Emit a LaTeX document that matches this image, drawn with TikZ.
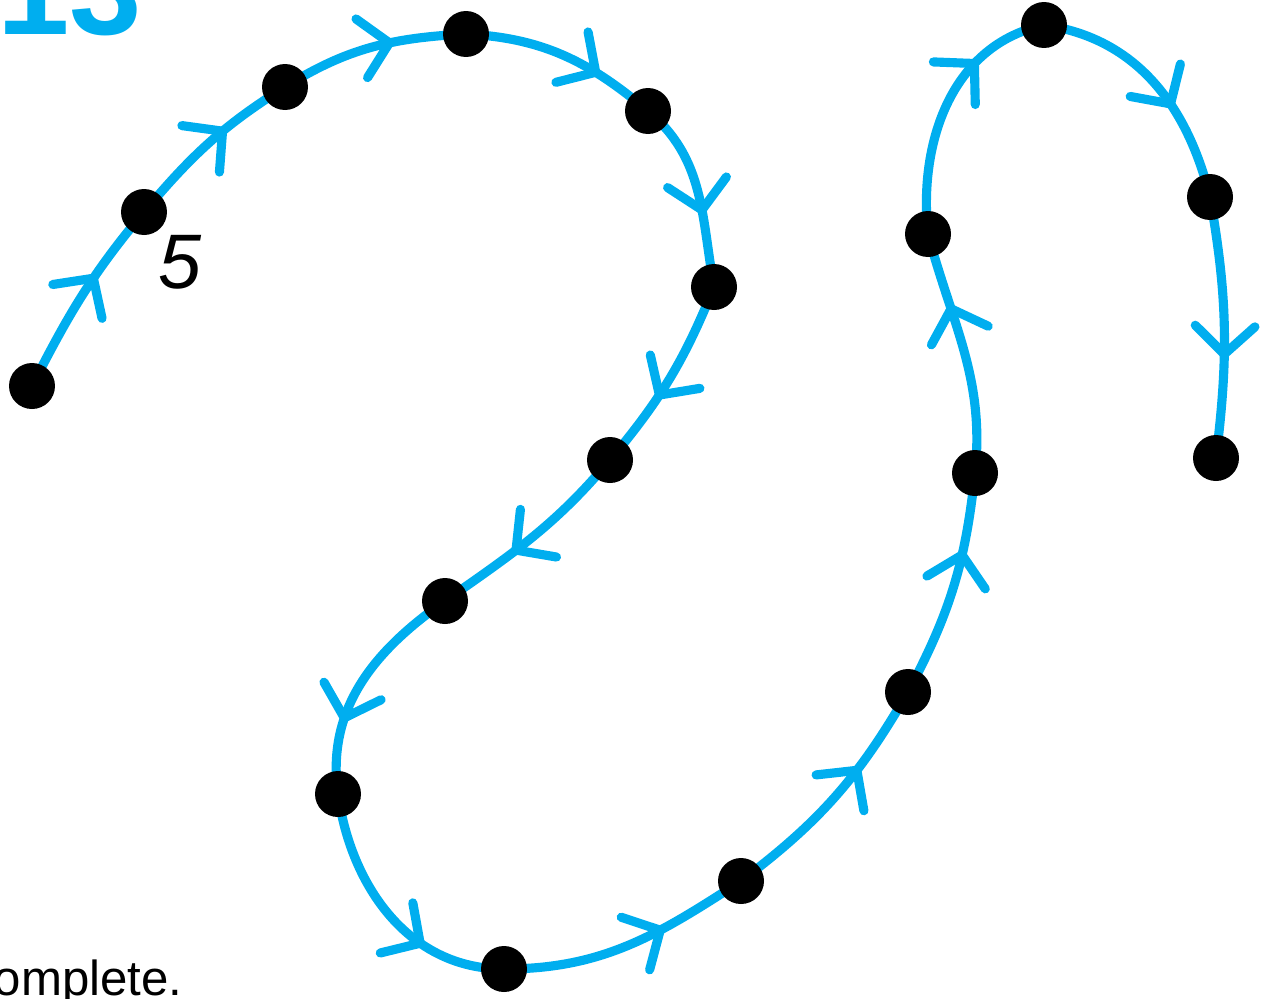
\documentclass[tikz,border=0pt]{standalone}
\usepackage{fontspec}
\setsansfont{Liberation Sans}
\usetikzlibrary{arrows.meta,decorations.markings,backgrounds}
\definecolor{walkcyan}{RGB}{0,174,239}

\begin{document}
\begin{tikzpicture}[x=0.02cm,y=0.02cm,
    dot/.style={circle,fill=black,inner sep=0pt,minimum size=0.92cm},
    walk/.style={walkcyan,line width=5.2pt,line cap=round,
      postaction={decorate},
      decoration={markings,
        mark=at position #1 with {\arrow{Straight Barb[round,length=16pt,width=34pt]}}}},
    walk/.default=0.62]
    \useasboundingbox (0,0) rectangle (1271,-998);
    \clip (0,0) rectangle (1271,-998);

    % labels cut by the frame
    \node[anchor=base east,inner sep=0pt,text=walkcyan,font=\sffamily\bfseries\fontsize{74}{80}\selectfont] (num) at (142,-34) {13};
    \node[anchor=base east,inner sep=0pt,font=\sffamily\fontsize{28}{32}\selectfont] (tail) at (183,-995) {complete.};

    % the dots along the walk
    \node[dot] (p1) at (32,-386) {};
    \node[dot] (p2) at (144,-212) {};
    \node[dot] (p3) at (285,-87) {};
    \node[dot] (p4) at (466,-34) {};
    \node[dot] (p5) at (648,-111) {};
    \node[dot] (p6) at (714,-287) {};
    \node[dot] (p7) at (610,-460) {};
    \node[dot] (p8) at (445,-601) {};
    \node[dot] (p9) at (338,-794) {};
    \node[dot] (p10) at (504,-969) {};
    \node[dot] (p11) at (741,-881) {};
    \node[dot] (p12) at (908,-692) {};
    \node[dot] (p13) at (975,-473) {};
    \node[dot] (p14) at (928,-234) {};
    \node[dot] (p15) at (1044,-25) {};
    \node[dot] (p16) at (1210,-197) {};
    \node[dot] (p17) at (1216,-458) {};

    \node[font=\sffamily\itshape\fontsize{44}{50}\selectfont] (five) at (180,-262) {5};

    % the walk itself, behind the dots
    \begin{scope}[on background layer]
    \draw[walk] (p1.center) to[out=63,in=230] (p2.center);
    \draw[walk] (p2.center) to[out=50,in=212] (p3.center);
    \draw[walk] (p3.center) to[out=32,in=183] (p4.center);
    \draw[walk=0.7] (p4.center) to[out=-3,in=140] (p5.center);
    \draw[walk] (p5.center) to[out=-40,in=100] (p6.center);
    \draw[walk] (p6.center) to[out=-112,in=50] (p7.center);
    \draw[walk] (p7.center) to[out=-130,in=35] (p8.center);
    \draw[walk=0.69] (p8.center) to[out=-145,in=98] (p9.center);
    \draw[walk=0.68] (p9.center) to[out=-82,in=180] (p10.center);
    \draw[walk=0.65] (p10.center) to[out=0,in=213] (p11.center);
    \draw[walk=0.65] (p11.center) to[out=37,in=240] (p12.center);
    \draw[walk=0.66] (p12.center) to[out=62,in=264] (p13.center);
    \draw[walk=0.7] (p13.center) to[out=84,in=285] (p14.center);
    \draw[walk=0.71] (p14.center) to[out=96,in=192] (p15.center);
    \draw[walk] (p15.center) to[out=-8,in=104] (p16.center);
    \draw[walk] (p16.center) to[out=-80,in=83] (p17.center);
    \end{scope}
\end{tikzpicture}
\end{document}
